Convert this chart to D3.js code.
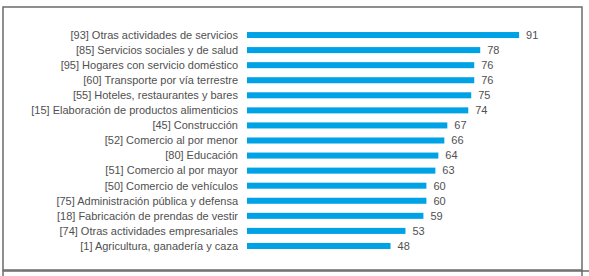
<!DOCTYPE html>
<html>
<head>
<meta charset="utf-8">
<script src="https://cdn.jsdelivr.net/npm/d3@7"></script>
<style>
  body { margin: 0; background: #fff; }
  svg text { font-family: "Liberation Sans", Arial, sans-serif; }
</style>
</head>
<body>
<div id="chart"><svg></svg></div>
<script>
// categories, top to bottom
const categories = [
  "[93] Otras actividades de servicios",
  "[85] Servicios sociales y de salud",
  "[95] Hogares con servicio  doméstico",
  "[60] Transporte por vía terrestre",
  "[55] Hoteles, restaurantes y bares",
  "[15] Elaboración de productos alimenticios",
  "[45] Construcción",
  "[52] Comercio al por menor",
  "[80] Educación",
  "[51] Comercio al por mayor",
  "[50] Comercio de vehículos",
  "[75] Administración pública y defensa",
  "[18] Fabricación de prendas de vestir",
  "[74] Otras actividades empresariales",
  "[1] Agricultura, ganadería y caza"
];
const values = [91, 78, 76, 76, 75, 74, 67, 66, 64, 63, 60, 60, 59, 53, 48];

const w = 589, h = 276;
const svg = d3.select("#chart svg").attr("width", w).attr("height", h);

// frame around the chart, plus the top of the next box
svg.append("rect")
  .attr("x", 3).attr("y", 7)
  .attr("width", 579).attr("height", 263)
  .attr("fill", "none").attr("stroke", "#6b6b6b").attr("stroke-width", 1.5);
svg.append("line")
  .attr("x1", 3).attr("x2", 589).attr("y1", 271).attr("y2", 271)
  .attr("stroke", "#6b6b6b").attr("stroke-width", 1.5);
svg.append("line")
  .attr("x1", 582).attr("x2", 582).attr("y1", 270).attr("y2", 276)
  .attr("stroke", "#6b6b6b").attr("stroke-width", 1.5);
svg.append("line")
  .attr("x1", 3).attr("x2", 3).attr("y1", 270).attr("y2", 276)
  .attr("stroke", "#6b6b6b").attr("stroke-width", 1.5);

const x = d3.scaleLinear().domain([0, 100]).range([247, 546]);
const y = d3.scaleBand().domain(categories).range([27.5, 253.5]).paddingInner(0.6).paddingOuter(0.3);

const g = svg.append("g");

g.selectAll("rect.bar")
  .data(categories)
  .join("rect")
  .attr("class", "bar")
  .attr("x", x(0))
  .attr("y", d => y(d))
  .attr("width", (d, i) => x(values[i]) - x(0))
  .attr("height", y.bandwidth())
  .attr("fill", "#00a2e6");

// category labels
g.selectAll("text.cat")
  .data(categories)
  .join("text")
  .attr("class", "cat")
  .attr("x", 238)
  .attr("y", d => y(d) + y.bandwidth() / 2)
  .attr("dy", "0.35em")
  .attr("text-anchor", "end")
  .attr("font-size", 11)
  .attr("fill", "#505050")
  .text(d => d);

// value labels
g.selectAll("text.val")
  .data(categories)
  .join("text")
  .attr("class", "val")
  .attr("x", (d, i) => x(values[i]) + 7)
  .attr("y", d => y(d) + y.bandwidth() / 2)
  .attr("dy", "0.35em")
  .attr("font-size", 11)
  .attr("fill", "#505050")
  .text((d, i) => values[i]);
</script>
</body>
</html>
